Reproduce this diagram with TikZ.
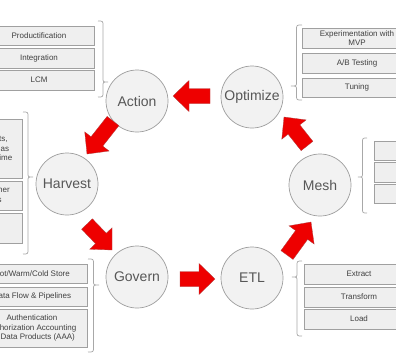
\documentclass[tikz,border=0pt]{standalone}
\usepackage{fontspec}
\setmainfont{Liberation Sans}
\usetikzlibrary{calc}
\definecolor{arrowred}{HTML}{EE0000}
\definecolor{arrowedge}{HTML}{B04040}
\definecolor{circfill}{HTML}{F2F2F2}
\definecolor{circedge}{HTML}{9E9E9E}
\definecolor{circtext}{HTML}{575757}
\definecolor{boxfill}{HTML}{EFEFEF}
\definecolor{boxedge}{HTML}{A0A0A0}
\definecolor{boxtext}{HTML}{404040}
\definecolor{bracecol}{HTML}{A8A8A8}
\tikzset{
  circ/.style={circle, draw=circedge, fill=circfill, line width=0.7pt, minimum size=62pt, inner sep=0pt,
    text=circtext, font=\fontsize{14}{16}\selectfont},
  box/.style={rectangle, draw=boxedge, fill=boxfill, line width=0.7pt, minimum width=110pt, inner sep=1pt,
    text=boxtext, align=center, font=\fontsize{8}{9.5}\selectfont},
  boxtxt/.style={inner sep=0pt, text=boxtext, align=center, font=\fontsize{8}{9.5}\selectfont},
  blockarr/.style={fill=arrowred, draw=arrowedge, line width=0.3pt, line join=miter},
  bracestyle/.style={draw=bracecol, line width=0.7pt}
}
\newcommand\blockarrow[2]{%
  \coordinate (#1b) at ($(#2)!16pt!(#1)$);
  \draw[blockarr] ($(#1)!7.5pt!90:(#2)$) -- ($(#1b)!7.5pt!90:(#2)$) -- ($(#1b)!15.5pt!90:(#2)$) -- (#2)
    -- ($(#1b)!15.5pt!-90:(#2)$) -- ($(#1b)!7.5pt!-90:(#2)$) -- ($(#1)!7.5pt!-90:(#2)$) -- cycle;}
% x0 (open end), x1 (tip), ytop, ymid(tip), ybottom
\newcommand\mybrace[5]{%
  \pgfmathsetmacro\xm{(#1+#2)/2}%
  \draw[bracestyle] (#1,#3) .. controls (\xm,#3) .. (\xm,#3+5) -- (\xm,#4-4)
    .. controls (\xm,#4) .. (#2,#4) .. controls (\xm,#4) .. (\xm,#4+4) -- (\xm,#5-5)
    .. controls (\xm,#5) .. (#1,#5);}
\begin{document}
\begin{tikzpicture}[x=1pt,y=-1pt]
\useasboundingbox (0,0) rectangle (396,360);
\clip (0,0) rectangle (396,360);
\fill[white] (0,0) rectangle (396,360);

% circles
\node[circ] (action) at (137,101) {Action};
\node[circ] (optimize) at (252,97) {Optimize};
\node[circ] (harvest) at (67,184) {Harvest};
\node[circ] (mesh) at (320,185) {Mesh};
\node[circ] (govern) at (137,277) {Govern};
\node[circ] (etl) at (252,278) {ETL};

% Action group
\node[box, minimum height=19pt] (prod) at (39,35.5) {Productification};
\node[box, minimum height=20pt] (integ) at (39,58) {Integration};
\node[box, minimum height=20pt] (lcm) at (39,80) {LCM};
\mybrace{98}{108}{21}{82}{97}

% Optimize group
\node[box, minimum height=20pt] (exper) at (357,38) {Experimentation with\\MVP};
\node[box, minimum height=20pt] (abtest) at (357,63) {A/B Testing};
\node[box, minimum height=19pt] (tuning) at (357,87.5) {Tuning};
\mybrace{302}{291}{25}{86}{100}

% Harvest group
\node[box, minimum width=101pt, minimum height=59pt] (hv1) at (-28.5,148.5) {};
\node[boxtxt] (hv1t) at (-38,143.5) {All Data Sources:\\Databases, Logs, Events,\\Streams and APIs such as\\Batches and Near Real-time};
\node[box, minimum width=101pt, minimum height=29pt] (hv2) at (-28.5,195.5) {};
\node[boxtxt] (hv2t) at (-32,194.5) {Third-Party and Partner\\Data Sets \& Feeds};
\node[box, minimum width=101pt, minimum height=30pt] (hv3) at (-28.5,228) {};
\mybrace{23}{33}{112}{177}{254}

% Govern group
\node[box, minimum height=19pt] (store) at (32,273.5) {Hot/Warm/Cold Store};
\node[box, minimum height=19pt] (flow) at (32,296.5) {Data Flow \& Pipelines};
\node[box, minimum height=38pt] (aaa) at (32,328) {Authentication\\Authorization Accounting\\for Data Products (AAA)};
\mybrace{88}{99}{259}{285}{352}

% ETL group
\node[box, minimum height=20pt] (extract) at (359,274) {Extract};
\node[box, minimum height=20pt] (transform) at (359,297) {Transform};
\node[box, minimum height=20pt] (load) at (359,319) {Load};
\mybrace{302}{292}{261}{277}{336}

% Mesh group
\node[box, minimum height=19pt] (ms1) at (429,150.5) {};
\node[box, minimum height=20pt] (ms2) at (429,172) {};
\node[box, minimum height=19pt] (ms3) at (429,193.5) {};
\mybrace{367}{358}{138}{177}{213}

% arrows
\coordinate (a1s) at (210,96);   \coordinate (a1e) at (173,96);
\coordinate (a2s) at (113,121);  \coordinate (a2e) at (87,154);
\coordinate (a3s) at (87,224);   \coordinate (a3e) at (112,250);
\coordinate (a4s) at (180,279);  \coordinate (a4e) at (215,279);
\coordinate (a5s) at (287,255);  \coordinate (a5e) at (311,222);
\coordinate (a6s) at (307,146);  \coordinate (a6e) at (284,117);
\blockarrow{a1s}{a1e}
\blockarrow{a2s}{a2e}
\blockarrow{a3s}{a3e}
\blockarrow{a4s}{a4e}
\blockarrow{a5s}{a5e}
\blockarrow{a6s}{a6e}
\end{tikzpicture}
\end{document}
